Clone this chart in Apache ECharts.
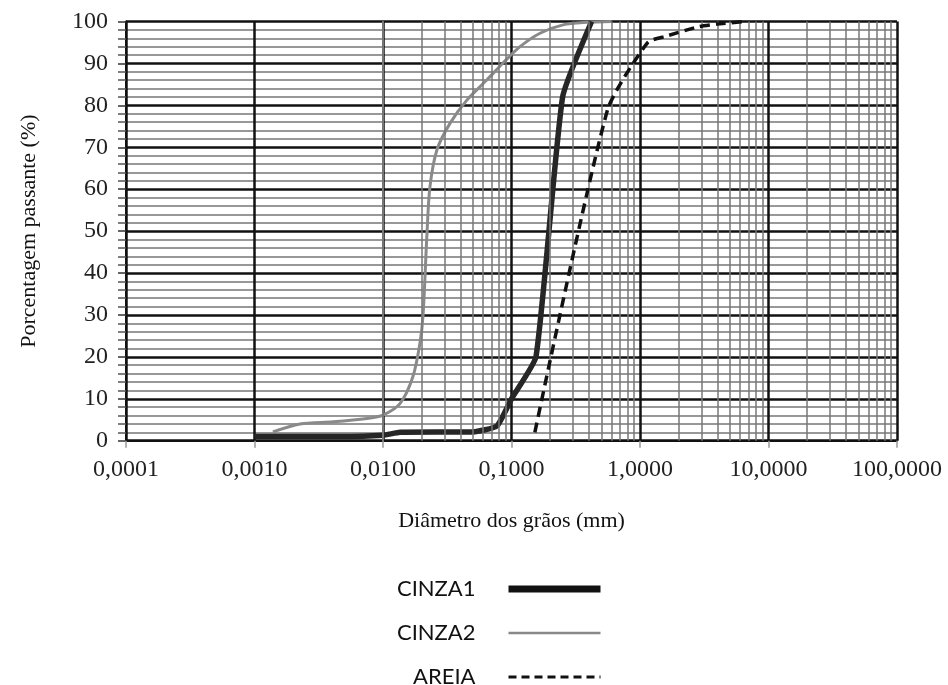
<!DOCTYPE html>
<html>
<head>
<meta charset="utf-8">
<script src="https://cdn.jsdelivr.net/npm/echarts@6/dist/echarts.min.js"></script>
<style>html,body{margin:0;padding:0;background:#fff}#c{width:948px;height:685px}</style>
</head>
<body>
<div id="c"></div>
<script>
// Data (x = grain diameter in mm, y = % passing)
const cinza1X = [0.001, 0.0045, 0.01, 0.0136, 0.05, 0.077, 0.1, 0.155, 0.25, 0.42];
const cinza1Y = [1, 1, 1.3, 2, 2.1, 3.5, 10, 20, 82, 100];
const cinza2X = [0.00139, 0.00226, 0.0041, 0.0075, 0.01, 0.0136, 0.0171, 0.0194, 0.0205, 0.022, 0.0232, 0.0263, 0.0332, 0.0451, 0.0645, 0.0859, 0.1165, 0.1667, 0.252, 0.387, 0.6];
const cinza2Y = [2.1, 4, 4.5, 5.3, 6.1, 8.9, 15.3, 23.3, 30, 49.5, 60.6, 69.4, 75.7, 81.3, 86.1, 90.1, 94, 97.2, 99.2, 99.8, 100];
const areiaX = [0.152, 0.56, 1.15, 1.6, 2.9, 4, 6.5];
const areiaY = [2, 79, 95, 96.5, 98.8, 99.4, 100];
const seriesNames = ['CINZA1', 'CINZA2', 'AREIA'];
const decades = [0.0001, 0.001, 0.01, 0.1, 1, 10, 100];
const yTicks = [0, 10, 20, 30, 40, 50, 60, 70, 80, 90, 100];

const pairs = (xs, ys) => xs.map((x, i) => [x, ys[i]]);
// minor log grid positions 2..9 within each decade
const minorX = [];
for (let i = 0; i < decades.length - 1; i++) {
  for (let m = 2; m <= 9; m++) minorX.push(+(decades[i] * m).toPrecision(3));
}
const fmt = v => v.toFixed(4).replace('.', ',');
const serif = 'Liberation Serif';
const hiddenDot = {color: 'rgba(0,0,0,0)', borderColor: 'rgba(0,0,0,0)', borderWidth: 0, opacity: 0};

const chart = echarts.init(document.getElementById('c'), null, {renderer: 'canvas'});
chart.setOption({
  animation: false,
  backgroundColor: '#fff',
  grid: {left: 126, right: 51, top: 21.5, bottom: 244.3, containLabel: false},
  xAxis: {
    type: 'log', logBase: 10, min: decades[0], max: decades[decades.length - 1],
    name: 'Diâmetro dos grãos (mm)', nameLocation: 'middle', nameGap: 70,
    nameTextStyle: {fontFamily: serif, fontSize: 22, color: '#111'},
    axisLine: {show: true, onZero: false, lineStyle: {color: '#111', width: 2}},
    axisTick: {show: true, length: 7, lineStyle: {color: '#999', width: 1.5}},
    axisLabel: {formatter: fmt, fontFamily: serif, fontSize: 24, color: '#222', margin: 17},
    splitLine: {show: true, lineStyle: {color: '#111', width: 2.5}},
    minorTick: {show: false}, minorSplitLine: {show: false}
  },
  yAxis: {
    type: 'value', min: yTicks[0], max: yTicks[yTicks.length - 1], interval: 10,
    name: 'Porcentagem passante (%)', nameLocation: 'middle', nameGap: 86,
    nameTextStyle: {fontFamily: serif, fontSize: 22, color: '#111'},
    axisLine: {show: true, lineStyle: {color: '#111', width: 2}},
    axisTick: {show: true, length: 8, lineStyle: {color: '#333', width: 1.5}},
    minorTick: {show: true, splitNumber: 5, length: 8, lineStyle: {color: '#555', width: 1.5}},
    axisLabel: {fontFamily: serif, fontSize: 24, color: '#222', margin: 18},
    splitLine: {show: true, lineStyle: {color: '#111', width: 2.5}},
    minorSplitLine: {show: true, lineStyle: {color: '#777', width: 1.5}}
  },
  legend: {
    orient: 'vertical', align: 'right', right: 339, top: 573, height: 200,
    itemWidth: 92, itemHeight: 22, itemGap: 22,
    textStyle: {fontFamily: 'Lato', fontSize: 22, color: '#111', width: 90, lineHeight: 22, padding: [0, 28, 0, 0]},
    data: [
      {name: seriesNames[0], itemStyle: hiddenDot, lineStyle: {width: 7, color: '#111'}},
      {name: seriesNames[1], itemStyle: hiddenDot, lineStyle: {width: 2.5, color: '#888'}},
      {name: seriesNames[2], itemStyle: hiddenDot, lineStyle: {width: 3, color: '#111', type: [8, 5]}}
    ]
  },
  series: [
    {
      type: 'line', name: 'grid-minor', silent: true, z: 1, data: [], symbol: 'none',
      markLine: {
        silent: true, symbol: 'none', label: {show: false}, animation: false,
        lineStyle: {color: '#777', width: 1.5, type: 'solid'},
        data: minorX.map(v => ({xAxis: v}))
      }
    },
    {
      type: 'line', name: seriesNames[1], z: 3, data: pairs(cinza2X, cinza2Y),
      symbol: 'none', smooth: 0.3, lineStyle: {color: '#8a8a8a', width: 3}, itemStyle: {color: '#8a8a8a'}
    },
    {
      type: 'line', name: seriesNames[0], z: 4, data: pairs(cinza1X, cinza1Y),
      symbol: 'none', smooth: 0.15, lineStyle: {color: '#262626', width: 5.5}, itemStyle: {color: '#262626'}
    },
    {
      type: 'line', name: seriesNames[2], z: 5, data: pairs(areiaX, areiaY),
      symbol: 'none', smooth: 0.2, lineStyle: {color: '#111', width: 3.5, type: [10, 6]}, itemStyle: {color: '#111'}
    }
  ]
});
</script>
</body>
</html>
